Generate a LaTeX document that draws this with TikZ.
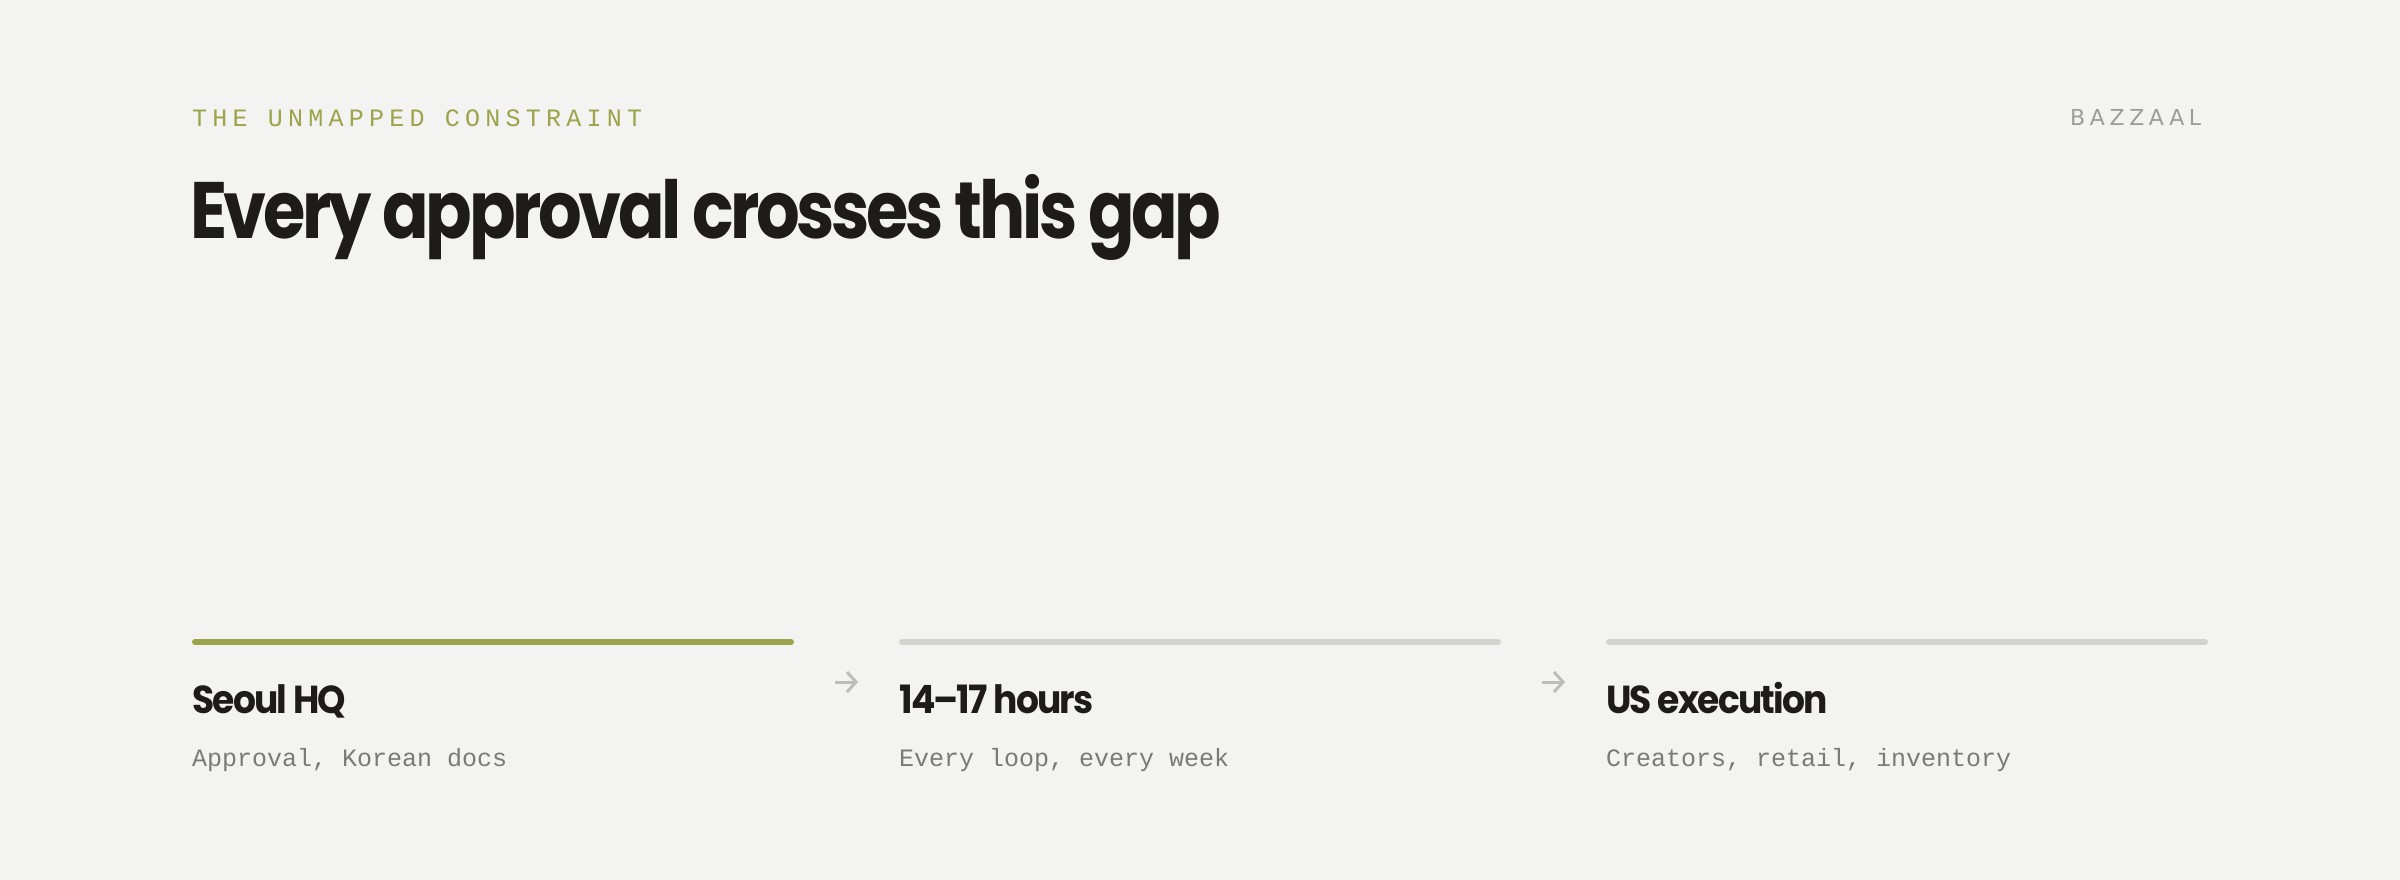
\documentclass[tikz,border=0pt]{standalone}
\usepackage{fontspec}
\usepackage{graphicx}
\usetikzlibrary{arrows.meta}
\newfontfamily\headfont{Poppins}
\newfontfamily\kickfont{Liberation Mono}[LetterSpace=21]
\newfontfamily\brandfont{DejaVu Sans}[LetterSpace=21]
\newfontfamily\subfont{Liberation Mono}
\newcommand\squeezetitle[1]{\scalebox{0.858}[1]{#1}}
\newcommand\squeezehead[1]{\scalebox{0.925}[1]{#1}}
\definecolor{bgc}{HTML}{F3F3F1}
\definecolor{olive}{HTML}{9CA34A}
\definecolor{ink}{HTML}{1E1C1A}
\definecolor{barg}{HTML}{D2D2CF}
\definecolor{subg}{HTML}{7A7A76}
\definecolor{brandg}{HTML}{9C9C99}
\definecolor{arrg}{HTML}{BDBDBA}
\tikzset{
  kicker/.style={anchor=base west,inner sep=0,text=olive,font=\kickfont\fontsize{25}{25}\selectfont},
  brand/.style={anchor=base west,inner sep=0,text=brandg,font=\brandfont\fontsize{22}{22}\selectfont},
  titletext/.style={anchor=base west,inner sep=0,text=ink,font=\headfont\bfseries\addfontfeature{LetterSpace=-5}\fontsize{80}{80}\selectfont},
  headtext/.style={anchor=base west,inner sep=0,text=ink,font=\headfont\bfseries\addfontfeature{LetterSpace=-5}\fontsize{39}{39}\selectfont},
  subtext/.style={anchor=base west,inner sep=0,text=subg,font=\subfont\fontsize{25}{25}\selectfont},
  activebar/.style={draw=olive,line width=6pt,line cap=round},
  idlebar/.style={draw=barg,line width=6pt,line cap=round},
  flowarrow/.style={draw=arrg,line width=3pt,-{Straight Barb[length=9pt,width=20pt,line width=3pt]}}
}
\begin{document}
\begin{tikzpicture}[x=1pt,y=-1pt]
\fill[bgc] (0,0) rectangle (2400,880);
\useasboundingbox (0,0) rectangle (2400,880);
\node[kicker] (kick) at (192,127) {THE UNMAPPED CONSTRAINT};
\node[brand] (brandname) at (2070,126) {BAZZAAL};
\node[titletext] (title) at (190,238) {\squeezetitle{Every approval crosses this gap}};
% bars
\coordinate (b1s) at (195,642); \coordinate (b1e) at (791,642);
\coordinate (b2s) at (902,642); \coordinate (b2e) at (1498,642);
\coordinate (b3s) at (1609,642); \coordinate (b3e) at (2205,642);
\draw[activebar] (b1s) -- (b1e);
\draw[idlebar] (b2s) -- (b2e);
\draw[idlebar] (b3s) -- (b3e);
% headings
\node[headtext] (h1) at (192,713) {\squeezehead{Seoul HQ}};
\node[headtext] (h2) at (899,713) {\squeezehead{14–17 hours}};
\node[headtext] (h3) at (1606,713) {\squeezehead{US execution}};
\node[subtext] (s1) at (192,766) {Approval, Korean docs};
\node[subtext] (s2) at (899,766) {Every loop, every week};
\node[subtext] (s3) at (1606,766) {Creators, retail, inventory};
% arrows
\coordinate (a1s) at (835,682); \coordinate (a1e) at (858,682);
\coordinate (a2s) at (1542,682); \coordinate (a2e) at (1565,682);
\draw[flowarrow] (a1s) -- (a1e);
\draw[flowarrow] (a2s) -- (a2e);
\end{tikzpicture}
\end{document}
